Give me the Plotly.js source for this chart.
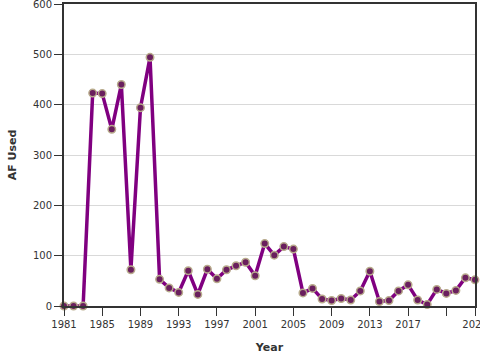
<!DOCTYPE html>
<html>
<head>
<meta charset="utf-8">
<script src="https://cdn.plot.ly/plotly-3.0.1.min.js"></script>
<style>html,body{margin:0;padding:0;background:#fff;}#chart{width:480px;height:360px;}</style>
</head>
<body>
<div id="chart"></div>
<script>
const years = [1981,1982,1983,1984,1985,1986,1987,1988,1989,1990,1991,1992,1993,1994,1995,1996,1997,1998,1999,2000,2001,2002,2003,2004,2005,2006,2007,2008,2009,2010,2011,2012,2013,2014,2015,2016,2017,2018,2019,2020,2021,2022,2023,2024];
const afUsed = [0,0,0,423,422,351,440,72,394,494,53,36,27,70,23,73,54,72,80,87,60,124,101,118,113,26,35,14,11,15,12,30,69,9,11,30,42,12,3,33,25,31,56,52];
const tickYears = [1981,1985,1989,1993,1997,2001,2005,2009,2013,2017,2021,2024];
const tickLabels = ["1981","1985","1989","1993","1997","2001","2005","2009","2013","2017","","2024"];
const yTicks = [0,100,200,300,400,500,600];

const trace = {
  x: years, y: afUsed, type: 'scatter', mode: 'lines+markers',
  line: {color: '#800080', width: 3.5},
  marker: {color: '#6a1f5e', size: 7.5, line: {color: '#b8ab8c', width: 1.5}},
  cliponaxis: false, hoverinfo: 'none'
};
const layout = {
  width: 480, height: 360,
  margin: {l: 64, r: 5, t: 4, b: 54},
  paper_bgcolor: '#fff', plot_bgcolor: '#fff',
  font: {family: 'DejaVu Sans, sans-serif', size: 10, color: '#333'},
  showlegend: false,
  xaxis: {
    range: [1981, 2024], tickvals: tickYears, ticktext: tickLabels, ticklabeloverflow: 'allow',
    showgrid: false, zeroline: false, showline: true, linecolor: '#333', linewidth: 2, mirror: true,
    ticks: 'outside', ticklen: 8, tickcolor: '#333', tickwidth: 1,
    title: {text: '<b>Year</b>', font: {size: 11, color: '#333'}, standoff: 14}
  },
  yaxis: {
    range: [0, 600], tickvals: yTicks, ticklabeloverflow: 'allow',
    showgrid: true, gridcolor: '#d9d9d9', gridwidth: 1, zeroline: false,
    showline: true, linecolor: '#333', linewidth: 2, mirror: true,
    ticks: 'outside', ticklen: 8, tickcolor: '#333', tickwidth: 1,
    title: {text: '<b>AF Used</b>', font: {size: 11, color: '#333'}, standoff: 14}
  }
};
Plotly.newPlot('chart', [trace], layout, {displayModeBar: false, staticPlot: true});
</script>
</body>
</html>
